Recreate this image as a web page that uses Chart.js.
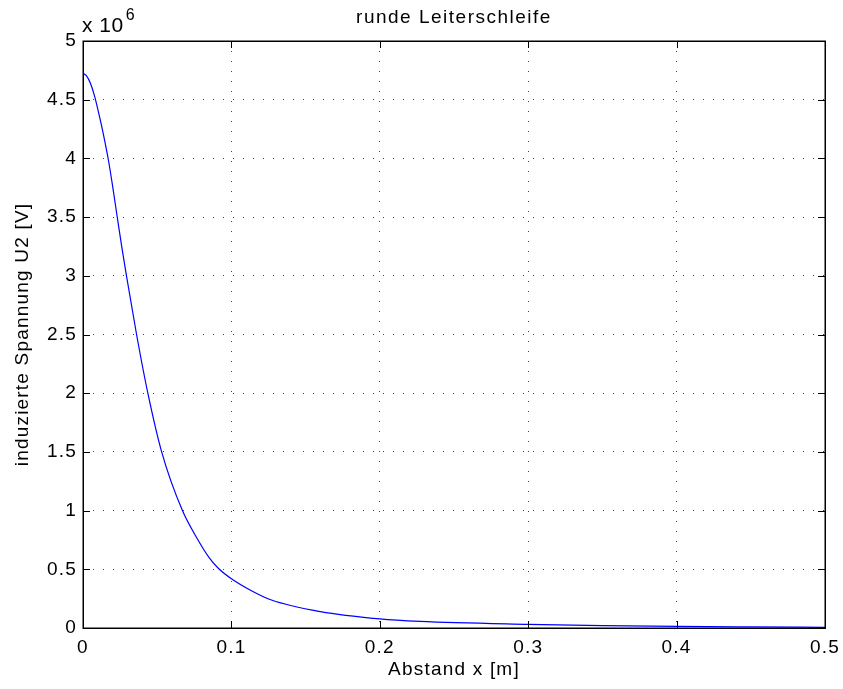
<!DOCTYPE html>
<html>
<head>
<meta charset="utf-8">
<script src="https://cdn.jsdelivr.net/npm/chart.js@4"></script>
<style>
  html, body { margin: 0; padding: 0; background: #fff; }
  #wrap { width: 843px; height: 689px; }
</style>
</head>
<body>
<div id="wrap"><canvas id="chart" width="843" height="689"></canvas></div>
<script>
// Abstand x [m] und induzierte Spannung U2 [V]
const abstand = [0, 0.0025, 0.005, 0.0078, 0.0105, 0.0135, 0.0172, 0.02, 0.0232, 0.0262,
  0.0293, 0.0361, 0.0437, 0.053, 0.067, 0.0775, 0.085, 0.0915, 0.1, 0.1135,
  0.127, 0.16, 0.2, 0.227, 0.3, 0.35, 0.4, 0.45, 0.5];
const spannung = [4.725e6, 4.70e6, 4.64e6, 4.53e6, 4.39e6, 4.22e6, 3.98e6, 3.76e6, 3.49e6, 3.24e6,
  3.00e6, 2.50e6, 2.00e6, 1.50e6, 1.00e6, 0.75e6, 0.60e6, 0.505e6, 0.42e6, 0.318e6,
  0.238e6, 0.139e6, 0.077e6, 0.056e6, 0.031e6, 0.020e6, 0.013e6, 0.009e6, 0.006e6];
const xTicks = [0, 0.1, 0.2, 0.3, 0.4, 0.5];
const yTicks = [0, 0.5e6, 1e6, 1.5e6, 2e6, 2.5e6, 3e6, 3.5e6, 4e6, 4.5e6, 5e6];

const FONT = "'Liberation Sans', Arial, sans-serif";
Chart.defaults.font.family = FONT;
Chart.defaults.color = "#000";

const punkte = abstand.map((x, i) => ({ x: x, y: spannung[i] }));

// etwas breitere Schrift wie im Original
const sperren = {
  id: "sperren",
  beforeUpdate(chart) { chart.ctx.letterSpacing = "1.2px"; },
  beforeDraw(chart) { chart.ctx.letterSpacing = "1.2px"; }
};

// Rahmen, Ticks nach innen, Titel und Exponent
const matlabAxes = {
  id: "matlabAxes",
  afterDraw(chart) {
    const { ctx, chartArea: a, scales } = chart;
    ctx.save();
    ctx.strokeStyle = "#000";
    ctx.lineWidth = 1;
    const tl = 7;
    ctx.beginPath();
    xTicks.forEach(v => {
      const px = Math.round(scales.x.getPixelForValue(v)) + 0.5;
      ctx.moveTo(px, a.bottom); ctx.lineTo(px, a.bottom - tl);
      ctx.moveTo(px, a.top); ctx.lineTo(px, a.top + tl);
    });
    yTicks.forEach(v => {
      const py = Math.round(scales.y.getPixelForValue(v)) + 0.5;
      ctx.moveTo(a.left, py); ctx.lineTo(a.left + tl, py);
      ctx.moveTo(a.right, py); ctx.lineTo(a.right - tl, py);
    });
    ctx.stroke();
    ctx.lineWidth = 1.5;
    ctx.strokeRect(Math.round(a.left) + 0.25, Math.round(a.top) + 0.25, Math.round(a.right - a.left), Math.round(a.bottom - a.top));

    ctx.fillStyle = "#000";
    ctx.textBaseline = "alphabetic";
    ctx.textAlign = "center";
    ctx.letterSpacing = "1.5px";
    ctx.font = "19px " + FONT;
    ctx.fillText("runde Leiterschleife", (a.left + a.right) / 2, 23);
    ctx.textAlign = "left";
    ctx.letterSpacing = "0.5px";
    ctx.font = "21px " + FONT;
    ctx.fillText("x 10", a.left - 1, 32);
    const w = ctx.measureText("x 10").width;
    ctx.font = "16px " + FONT;
    ctx.fillText("6", a.left + w + 1, 20);
    ctx.restore();
  }
};

new Chart(document.getElementById("chart"), {
  type: "line",
  data: {
    datasets: [{
      data: punkte,
      borderColor: "#0000ff",
      borderWidth: 1.2,
      pointRadius: 0,
      fill: false,
      cubicInterpolationMode: "monotone"
    }]
  },
  options: {
    responsive: false,
    animation: false,
    layout: { padding: { left: 0, right: 18, top: 41, bottom: 0 } },
    plugins: { legend: { display: false }, tooltip: { enabled: false }, title: { display: false } },
    scales: {
      x: {
        type: "linear",
        min: 0, max: 0.5,
        afterBuildTicks: s => { s.ticks = xTicks.map(v => ({ value: v })); },
        afterFit: s => { s.height = 61; s.paddingLeft = 0; s.paddingRight = 0; },
        ticks: {
          font: { size: 19 }, padding: 8,
          callback: v => String(Math.round(v * 10) / 10)
        },
        grid: { color: "#444", lineWidth: 1, drawTicks: false },
        border: { display: false, dash: [1, 9] },
        title: { display: true, text: "Abstand x [m]", font: { size: 19 }, padding: { top: 0, bottom: 8 } }
      },
      y: {
        type: "linear",
        min: 0, max: 5e6,
        afterBuildTicks: s => { s.ticks = yTicks.map(v => ({ value: v })); },
        afterFit: s => { s.width = 83; s.paddingTop = 0; s.paddingBottom = 0; },
        ticks: {
          font: { size: 19 }, padding: 6,
          callback: v => String(Math.round(v / 1e5) / 10)
        },
        grid: { color: "#444", lineWidth: 1, drawTicks: false },
        border: { display: false, dash: [1, 9] },
        title: { display: true, text: "induzierte Spannung U2 [V]", font: { size: 19 }, padding: { top: 11, bottom: 0 } }
      }
    }
  },
  plugins: [sperren, matlabAxes]
});
</script>
</body>
</html>
